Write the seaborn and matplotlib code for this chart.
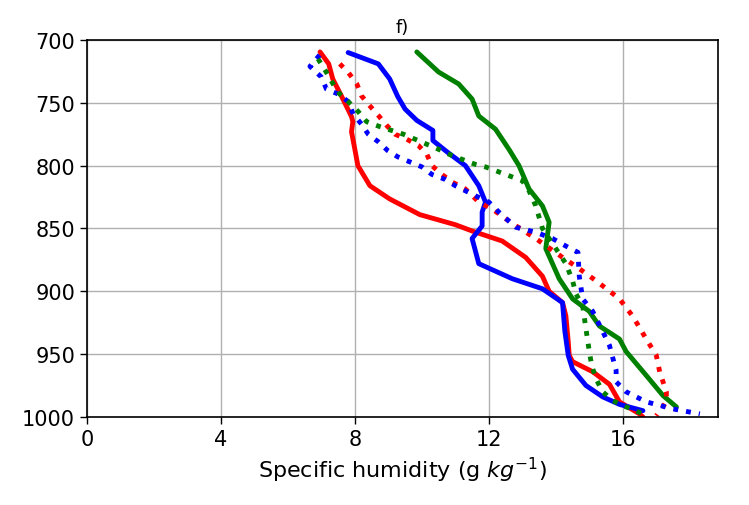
import matplotlib
matplotlib.use("Agg")
import matplotlib.pyplot as plt
import seaborn as sns
import numpy as np

# Red solid
red_solid_q = [6.96, 7.22, 7.34, 7.6, 7.9, 7.94, 7.9, 8.0, 8.09, 8.45, 9.04, 9.94, 11.0, 11.5, 12.4, 13.1, 13.6, 13.8, 14.2, 14.3, 14.37, 14.4, 14.5, 15.1, 15.6, 15.9, 16.5, 16.6]
red_solid_p = [709.5, 719, 731, 744.6, 761, 765, 773, 787, 800, 816, 826.5, 839, 847, 852, 860, 873, 888, 900, 909, 919.6, 940, 951, 956, 964, 974, 988, 997.6, 1000]

# Blue solid
blue_solid_q = [7.8, 8.7, 9.04, 9.28, 9.5, 9.85, 10.33, 10.33, 10.75, 11.3, 11.7, 11.9, 11.8, 11.8, 11.5, 11.7, 12.7, 13.6, 14.2, 14.27, 14.37, 14.5, 14.9, 15.4, 15.9, 16.6]
blue_solid_p = [710, 719, 731, 745, 755, 764, 772, 780, 789, 800, 816, 829, 837, 848, 858, 878, 890, 898, 909, 932, 951, 962, 975, 984, 990, 995]

# Green solid
green_solid_q = [9.85, 10.5, 11.1, 11.5, 11.7, 12.2, 12.6, 12.9, 13.2, 13.6, 13.8, 13.7, 14.1, 14.5, 15.0, 15.3, 15.9, 16.1, 16.7, 17.2, 17.6]
green_solid_p = [709.5, 725.5, 735, 747, 760.5, 771, 787, 800, 818.6, 832, 845, 866, 890, 906, 916, 927.6, 938, 948, 967, 983, 992]

# Red dotted
red_dot_q = [7.55, 7.8, 8.06, 8.2, 8.45, 8.7, 8.95, 9.2, 9.55, 9.9, 10.15, 10.3, 10.6, 10.9, 11.3, 11.7, 12.1, 12.7, 13.4, 14.2, 14.7, 15.2, 15.9, 16.3, 16.7, 17.0, 17.1, 17.3, 17.3, 17.0]
red_dot_p = [719, 725.7, 735, 744.5, 752.5, 760, 768, 775, 779, 784, 791, 800, 807, 813, 818.6, 829, 834.5, 846, 858, 873, 882, 891.6, 906, 920, 938, 951, 964, 980, 988, 999]

# Blue dotted
blue_dot_q = [6.95, 6.66, 7.0, 7.15, 7.5, 7.8, 7.95, 8.2, 8.4, 8.7, 8.98, 9.28, 9.64, 10.0, 10.3, 10.7, 11.0, 11.3, 11.6, 12.0, 12.3, 12.8, 13.4, 13.9, 14.3, 14.66, 14.7, 14.8, 15.1, 15.4, 15.6, 15.8, 15.8, 16.1, 16.7, 17.5, 18.3]
blue_dot_p = [712, 721, 729.5, 739, 743, 749, 759, 767, 775, 781, 788, 793, 797, 801, 807, 811, 816, 820, 824, 829, 837, 849, 853, 858, 864, 869, 888, 906, 916, 932, 943, 963, 972, 980, 988, 993.6, 997.6]

# Green dotted
green_dot_q = [6.9, 7.15, 7.35, 7.55, 7.8, 8.1, 8.35, 8.75, 9.1, 9.45, 9.8, 10.15, 10.5, 10.9, 11.2, 11.6, 11.9, 12.3, 12.6, 13.0, 13.2, 13.4, 13.6, 14.0, 14.3, 14.5, 14.6, 14.8, 14.9, 15.0, 15.07, 15.2, 15.4, 15.7, 16.1, 16.6]
green_dot_p = [715, 725.7, 735, 743, 749, 757, 765, 769, 772, 775, 779, 783, 787, 792, 795, 799, 801, 805, 808, 812, 820, 832, 850, 866, 878, 891.6, 902, 911.6, 930, 948, 959, 969.7, 980, 987, 992, 997.6]

x_ticks = [0, 4, 8, 12, 16]
y_ticks = [700, 750, 800, 850, 900, 950, 1000]

sns.set_style("ticks")
plt.rcParams['font.family'] = ['DejaVu Sans']
plt.rcParams['text.color'] = 'black'
plt.rcParams['axes.labelcolor'] = 'black'
plt.rcParams['xtick.color'] = 'black'
plt.rcParams['ytick.color'] = 'black'

fig = plt.figure(figsize=(7.49, 5.06), dpi=100)
ax = fig.add_axes([0.116, 0.174, 0.843, 0.745])

series = [
    (red_solid_q, red_solid_p, "red", "-"),
    (blue_solid_q, blue_solid_p, "blue", "-"),
    (green_solid_q, green_solid_p, "green", "-"),
    (red_dot_q, red_dot_p, "red", ":"),
    (blue_dot_q, blue_dot_p, "blue", ":"),
    (green_dot_q, green_dot_p, "green", ":"),
]
for q, p, c, ls in series:
    sns.lineplot(x=q, y=p, sort=False, estimator=None, color=c, linestyle=ls,
                 linewidth=3.5, ax=ax)

ax.set_xlim(0, 18.85)
ax.set_ylim(1000, 700)
ax.set_xticks(x_ticks)
ax.set_yticks(y_ticks)
ax.tick_params(labelsize=15, length=5, width=1, color="black", labelcolor="black")
ax.grid(True, color="#b0b0b0", linewidth=1)
for s in ax.spines.values():
    s.set_visible(True)
    s.set_color("black")
    s.set_linewidth(1.2)
ax.set_xlabel("Specific humidity (g $kg^{-1}$)", fontsize=16, color="black")
ax.set_ylabel("")
ax.set_title("f)", fontsize=13, color="black")

fig.savefig("out.png", dpi=100)
